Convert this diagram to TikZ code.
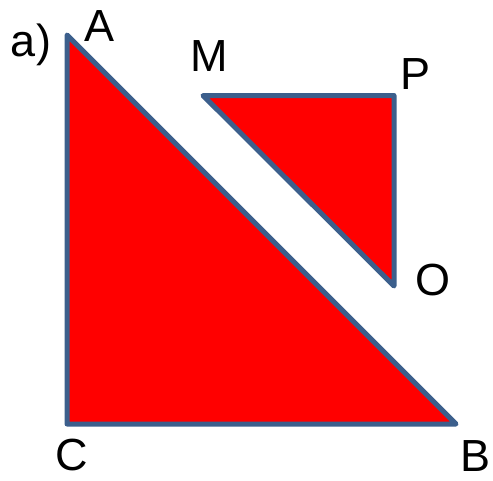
\documentclass[tikz,border=0pt]{standalone}
\usepackage{fontspec}
\setmainfont{Liberation Sans}
\begin{document}
\begin{tikzpicture}[x=1pt,y=-1pt,
  tri/.style={fill={rgb,255:red,255;green,0;blue,0},draw={rgb,255:red,60;green,95;blue,140},line width=5pt,line join=round},
  lbl/.style={inner sep=0pt,font=\fontsize{45}{50}\selectfont}]
\useasboundingbox (0,0) rectangle (493,480);
\coordinate (A) at (67,35);
\coordinate (C) at (67,424);
\coordinate (B) at (456,424);
\coordinate (M) at (203,95.5);
\coordinate (P) at (394,95.5);
\coordinate (O) at (394,286);
\draw[tri] (A) -- (B) -- (C) -- cycle;
\draw[tri] (M) -- (P) -- (O) -- cycle;
\node[lbl] (la) at (31,44.5) {a)};
\node[lbl] (lA) at (100,26.5) {A};
\node[lbl] (lM) at (209.5,56.5) {M};
\node[lbl] (lP) at (416,74) {P};
\node[lbl] (lO) at (433,280.5) {O};
\node[lbl] (lC) at (72,455.5) {C};
\node[lbl] (lB) at (476,456.5) {B};
\end{tikzpicture}
\end{document}
